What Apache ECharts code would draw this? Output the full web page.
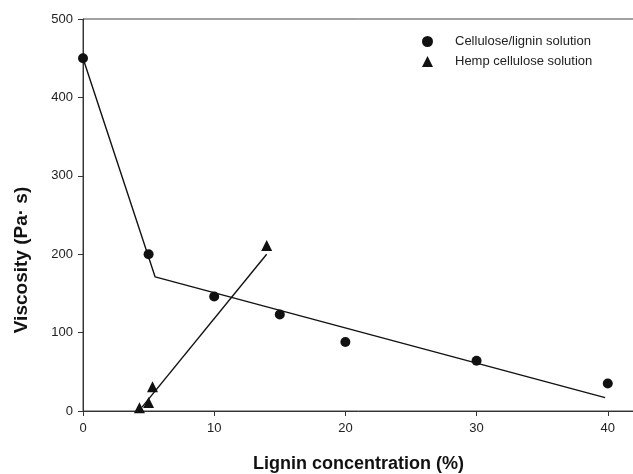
<!DOCTYPE html>
<html>
<head>
<meta charset="utf-8">
<script src="https://cdn.jsdelivr.net/npm/echarts@6/dist/echarts.min.js"></script>
<style>
  html, body { margin: 0; padding: 0; background: #fff; }
  #chart { width: 633px; height: 474px; }
</style>
</head>
<body>
<div id="chart"></div>
<script>
// measured points
const ligninPct = [0, 5, 10, 15, 20, 30, 40]
const ligninVisc = [450, 200, 146, 123, 88, 64, 35]
const hempPct = [4.3, 5, 5.3, 14]
const hempVisc = [4, 11, 31, 211]

// fitted lines drawn in the figure
const fitLigninX = [0, 5.5, 39.8]
const fitLigninY = [450, 171, 17]
const fitHempX = [4.5, 14]
const fitHempY = [5, 200]

const FONT = 'Liberation Sans, Arial, sans-serif'
const INK = '#111'

const zip = (xs, ys) => xs.map((x, i) => [x, ys[i]])

const chart = echarts.init(document.getElementById('chart'), null, { renderer: 'canvas' })

chart.setOption({
  animation: false,
  backgroundColor: '#fff',
  grid: {
    left: 83, right: -1, top: 19, bottom: 63,
    outerBoundsMode: 'none',
    show: true, borderColor: '#444', borderWidth: 1,
  },
  legend: {
    orient: 'vertical',
    left: 417, top: 30,
    itemWidth: 11, itemHeight: 11, itemGap: 7,
    data: ['Cellulose/lignin solution', 'Hemp cellulose solution'],
    textStyle: { fontFamily: FONT, fontSize: 13, color: '#222', padding: [0, 0, 0, 17] },
  },
  xAxis: {
    type: 'value',
    min: 0, max: 42, interval: 10,
    name: 'Lignin concentration (%)',
    nameLocation: 'middle',
    nameGap: 44,
    nameTextStyle: { fontFamily: FONT, fontSize: 18, fontWeight: 'bold', color: '#111' },
    axisLine: { lineStyle: { color: '#333', width: 1 } },
    axisTick: { show: true, length: 5, lineStyle: { color: '#333' } },
    axisLabel: {
      fontFamily: FONT, fontSize: 13, color: '#222', margin: 11,
      formatter: v => (v % 10 === 0 ? String(v) : ''),
    },
    splitLine: { show: false },
  },
  yAxis: {
    type: 'value',
    min: 0, max: 500, interval: 100,
    axisLine: { show: true, lineStyle: { color: '#333', width: 1 } },
    axisTick: { show: true, length: 5, lineStyle: { color: '#333' } },
    axisLabel: { fontFamily: FONT, fontSize: 13, color: '#222', margin: 10 },
    splitLine: { show: false },
  },
  graphic: [{
    type: 'text',
    x: 22, y: 260,
    rotation: Math.PI / 2,
    style: {
      text: 'Viscosity (Pa· s)',
      font: 'bold 19px ' + FONT,
      fill: '#111',
      align: 'center',
      verticalAlign: 'middle',
    },
  }],
  series: [
    {
      name: 'fitLignin', type: 'line', data: zip(fitLigninX, fitLigninY),
      symbol: 'none', lineStyle: { color: INK, width: 1.4 }, silent: true, z: 1,
    },
    {
      name: 'fitHemp', type: 'line', data: zip(fitHempX, fitHempY),
      symbol: 'none', lineStyle: { color: INK, width: 1.4 }, silent: true, z: 1,
    },
    {
      name: 'Cellulose/lignin solution', type: 'scatter',
      data: zip(ligninPct, ligninVisc),
      symbol: 'circle', symbolSize: 10, itemStyle: { color: INK, opacity: 1 }, z: 3,
    },
    {
      name: 'Hemp cellulose solution', type: 'scatter',
      data: zip(hempPct, hempVisc),
      symbol: 'triangle', symbolSize: 11, itemStyle: { color: INK, opacity: 1 }, z: 3,
    },
  ],
})
</script>
</body>
</html>
